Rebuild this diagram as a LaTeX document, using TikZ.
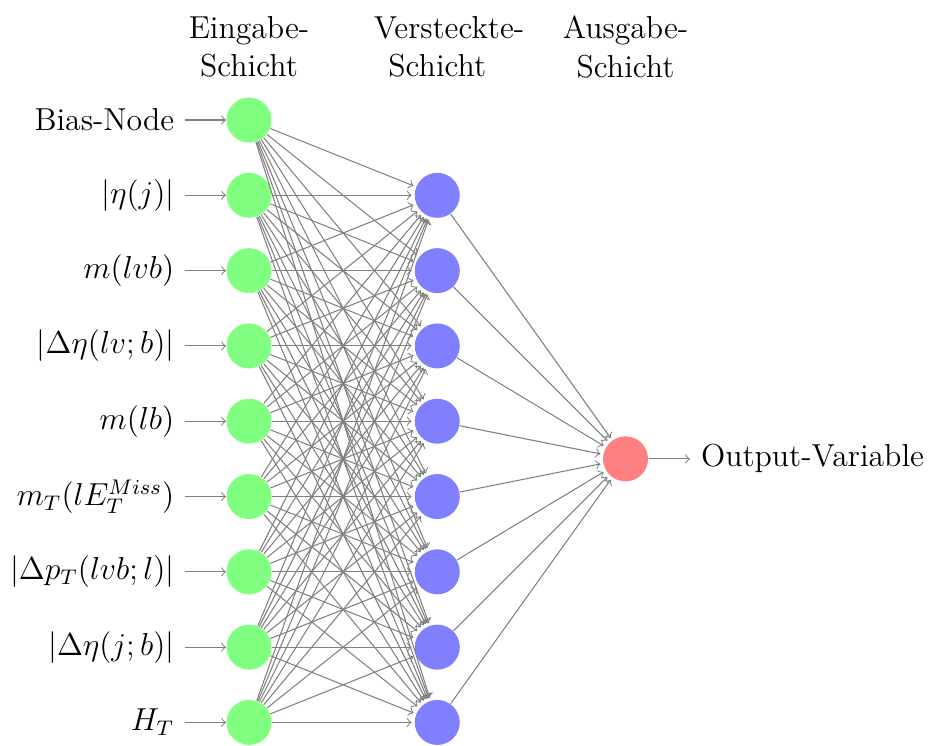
\documentclass[tikz,border=0pt,12pt]{standalone}
\usepackage{tikz}
\usetikzlibrary{positioning,arrows}
\tikzset{
  neuron/.style={circle,fill=black!25,minimum size=17pt,inner sep=0pt},
  input neuron/.style={neuron,fill=green!50},
  hidden neuron/.style={neuron,fill=blue!50},
  output neuron/.style={neuron,fill=red!50},
  synapse/.style={->,draw=black!50,shorten >=1pt},
  feed/.style={->,draw=black!50},
  annot/.style={text width=4em,align=center}
}
\def\layersep{2.5}

\begin{document}
\begin{tikzpicture}
  \useasboundingbox (-3.307,-8.30) rectangle (9.017,1.594);
  % input layer
  \foreach \name/\txt [count=\y] in {1/Bias-Node,2/{$|\eta(j)|$},3/{$m(lvb)$},
      4/{$|\Delta\eta(lv;b)|$},5/{$m(lb)$},6/{$m_T(lE_T^{Miss})$},
      7/{$|\Delta p_T(lvb;l)|$},8/{$|\Delta\eta(j;b)|$},9/{$H_T$}} {
    \node[input neuron] (I-\name) at (0,-\y+1) {};
    \node[left=0.54cm of I-\name] (L-\name) {\txt};
    \draw[feed] (L-\name) -- (I-\name);
  }
  % hidden layer
  \foreach \name in {1,...,8}
    \node[hidden neuron] (H-\name) at (\layersep,-\name) {};
  % output layer
  \node[output neuron] (O) at (2*\layersep,-4.5) {};
  \node[right=0.55cm of O] (OV) {Output-Variable};
  \draw[feed] (O) -- (OV);
  % connections
  \foreach \source in {1,...,9}
    \foreach \dest in {1,...,8}
      \draw[synapse] (I-\source) -- (H-\dest);
  \foreach \source in {1,...,8}
    \draw[synapse] (H-\source) -- (O);
  % layer labels
  \node[annot] (hl) at (\layersep,0.97) {Versteckte-Schicht};
  \node[annot] (il) at (0,0.97) {Eingabe-Schicht};
  \node[annot] (ol) at (2*\layersep,0.97) {Ausgabe-Schicht};
\end{tikzpicture}
\end{document}
